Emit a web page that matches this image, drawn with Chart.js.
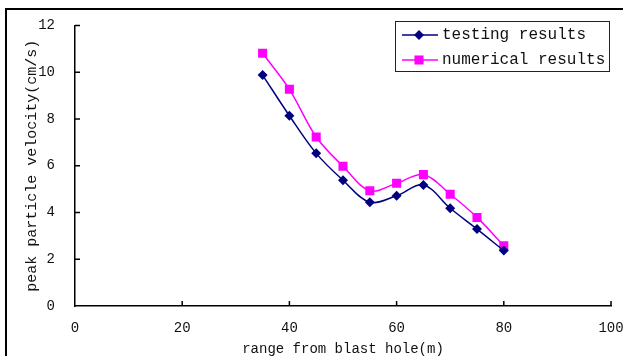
<!DOCTYPE html>
<html>
<head>
<meta charset="utf-8">
<script src="https://cdn.jsdelivr.net/npm/chart.js@4.4.0/dist/chart.umd.min.js"></script>
<style>
    html, body { margin: 0; padding: 0; background: #fff; overflow: hidden; }
    #wrap { position: relative; width: 623px; height: 356px; }
    #frame { position: absolute; left: 5px; top: 8px; width: 700px; height: 400px; border-left: 2px solid #000; border-top: 2px solid #000; }
    canvas { position: absolute; left: 0; top: 0; }
</style>
</head>
<body>
<div id="wrap">
    <div id="frame"></div>
    <canvas id="chart" width="623" height="356"></canvas>
</div>
<script>
// range from blast hole (m)
const distance = [35, 40, 45, 50, 55, 60, 65, 70, 75, 80];
// peak particle velocity (cm/s)
const testing = [9.88, 8.14, 6.53, 5.38, 4.44, 4.72, 5.18, 4.18, 3.29, 2.37];
const numerical = [10.81, 9.27, 7.23, 5.98, 4.93, 5.25, 5.62, 4.78, 3.79, 2.58];
const xTicks = [0, 20, 40, 60, 80, 100];
const yTicks = [0, 2, 4, 6, 8, 10, 12];

const FONT = '"Liberation Mono", "DejaVu Sans Mono", monospace';

// ticks point inward, drawn on the library's scales
const innerTicks = {
    id: 'innerTicks',
    afterDatasetsDraw(chart) {
        const { ctx, scales: { x, y } } = chart;
        ctx.save();
        ctx.strokeStyle = '#000';
        ctx.lineWidth = 1.5;
        ctx.beginPath();
        xTicks.forEach(v => {
            if (v === 0) return;
            const px = x.getPixelForValue(v);
            ctx.moveTo(px, y.bottom);
            ctx.lineTo(px, y.bottom - 5);
        });
        yTicks.forEach(v => {
            if (v === 0) return;
            const py = y.getPixelForValue(v);
            ctx.moveTo(x.left, py);
            ctx.lineTo(x.left + 5, py);
        });
        ctx.stroke();
        ctx.restore();
    }
};

// legend box inside the plot, top right
const boxLegend = {
    id: 'boxLegend',
    afterDraw(chart) {
        const ctx = chart.ctx;
        const bx = 395, by = 21, bw = 214, bh = 50;
        ctx.save();
        ctx.fillStyle = '#fff';
        ctx.fillRect(bx, by, bw, bh);
        ctx.strokeStyle = '#222';
        ctx.lineWidth = 1;
        ctx.strokeRect(bx + 0.5, by + 0.5, bw, bh);
        chart.data.datasets.forEach((ds, i) => {
            const cy = 35 + i * 25;
            ctx.strokeStyle = ds.borderColor;
            ctx.lineWidth = 1.5;
            ctx.beginPath();
            ctx.moveTo(402, cy);
            ctx.lineTo(438, cy);
            ctx.stroke();
            ctx.fillStyle = ds.backgroundColor;
            Chart.helpers.drawPoint(ctx, { pointStyle: ds.pointStyle, radius: ds.pointRadius, borderWidth: 0 }, 419, cy);
            ctx.fillStyle = '#111';
            ctx.font = '16px ' + FONT;
            ctx.textBaseline = 'middle';
            ctx.textAlign = 'left';
            ctx.fillText(ds.label, 442, cy);
        });
        ctx.restore();
    }
};

new Chart(document.getElementById('chart'), {
    type: 'line',
    data: {
        datasets: [
            {
                label: 'testing results',
                data: distance.map((d, i) => ({ x: d, y: testing[i] })),
                borderColor: '#000080',
                backgroundColor: '#000080',
                borderWidth: 1.5,
                pointStyle: 'rectRot',
                pointRadius: 5,
                pointBorderWidth: 0,
                tension: 0.35
            },
            {
                label: 'numerical results',
                data: distance.map((d, i) => ({ x: d, y: numerical[i] })),
                borderColor: '#FF00FF',
                backgroundColor: '#FF00FF',
                borderWidth: 1.5,
                pointStyle: 'rect',
                pointRadius: 6.4,
                pointBorderWidth: 0,
                tension: 0.35
            }
        ]
    },
    options: {
        responsive: false,
        animation: false,
        devicePixelRatio: 1,
        layout: { padding: { left: 7, right: 12, top: 25.5, bottom: 0 } },
        plugins: { legend: { display: false }, tooltip: { enabled: false } },
        scales: {
            x: {
                type: 'linear',
                min: 0, max: 100,
                afterFit: s => { s.height = 50; s.paddingLeft = 0; s.paddingRight = 0; },
                afterBuildTicks: s => { s.ticks = xTicks.map(v => ({ value: v })); },
                grid: { display: false, drawTicks: false },
                border: { display: true, color: '#000', width: 1.5 },
                ticks: { color: '#111', padding: 14, maxRotation: 0, font: { family: FONT, size: 14 } },
                title: {
                    display: true, text: 'range from blast hole(m)', color: '#111',
                    padding: { top: 0, bottom: 0 },
                    font: { family: FONT, size: 14, lineHeight: 1 }
                }
            },
            y: {
                min: 0, max: 12,
                afterFit: s => { s.width = 68; s.paddingTop = 0; s.paddingBottom = 0; },
                afterBuildTicks: s => { s.ticks = yTicks.map(v => ({ value: v })); },
                grid: { display: false, drawTicks: false },
                border: { display: true, color: '#000', width: 1.5 },
                ticks: { color: '#111', padding: 20, font: { family: FONT, size: 14 } },
                title: {
                    display: true, text: 'peak particle velocity(cm/s)', color: '#111',
                    padding: { top: 18, bottom: 0 },
                    font: { family: FONT, size: 15, lineHeight: 1 }
                }
            }
        }
    },
    plugins: [innerTicks, boxLegend]
});
</script>
</body>
</html>
